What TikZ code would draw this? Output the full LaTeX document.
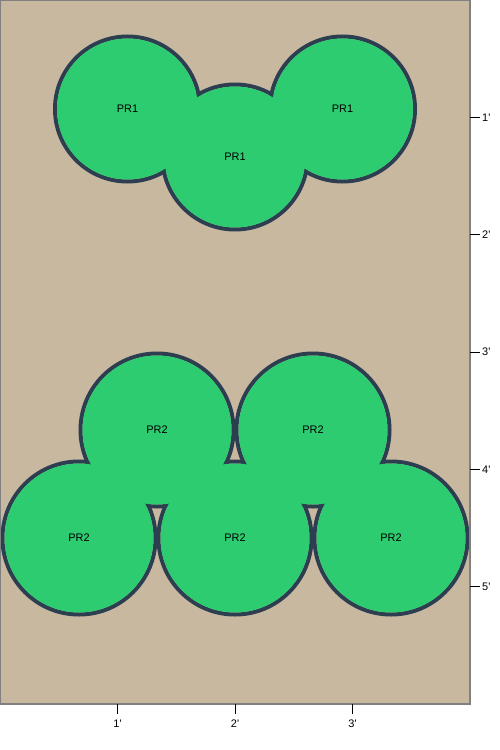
\documentclass[tikz,border=0pt]{standalone}
\usepackage{fontspec}
\newfontfamily\plotfont{Liberation Sans}
\definecolor{ground}{HTML}{C9B8A0}
\definecolor{plant}{HTML}{2ECC71}
\definecolor{rim}{HTML}{2C3E50}
\definecolor{frame}{HTML}{808080}
\begin{document}
\begin{tikzpicture}[x=1bp,y=-1bp,
  outline/.style={draw=rim,line width=4bp},
  pra/.style={circle,fill=plant,inner sep=0pt,minimum size=141bp,font=\plotfont\fontsize{11}{13}\selectfont},
  prb/.style={circle,fill=plant,inner sep=0pt,minimum size=149bp,font=\plotfont\fontsize{11}{13}\selectfont},
  tick/.style={draw=black,line width=1bp},
  ticklab/.style={font=\plotfont\fontsize{11}{13}\selectfont,inner sep=0pt}]
\useasboundingbox (0,0) rectangle (500,750);
\fill[white] (0,0) rectangle (500,750);
\fill[ground] (0,0) rectangle (470,704);
% circle centres
\coordinate (c1) at (127.5,109);
\coordinate (c2) at (235,157);
\coordinate (c3) at (342.5,109);
\coordinate (d1) at (157,430);
\coordinate (d2) at (313,430);
\coordinate (d3) at (79,538);
\coordinate (d4) at (235,538);
\coordinate (d5) at (391,538);
% outlines first
\foreach \c in {c1,c2,c3} \draw[outline] (\c) circle[radius=72.5bp];
\foreach \c in {d1,d2,d3,d4,d5} \draw[outline] (\c) circle[radius=76.5bp];
% fills with labels
\node[pra] (p1a) at (c1) {PR1};
\node[pra] (p1b) at (c2) {PR1};
\node[pra] (p1c) at (c3) {PR1};
\node[prb] (p2a) at (d1) {PR2};
\node[prb] (p2b) at (d2) {PR2};
\node[prb] (p2c) at (d3) {PR2};
\node[prb] (p2d) at (d4) {PR2};
\node[prb] (p2e) at (d5) {PR2};
% frame
\draw[frame,line width=2bp] (0,0) rectangle (470,704);
% right ticks
\foreach \i/\y in {1/117.3,2/234.7,3/352,4/469.3,5/586.7}{
  \coordinate (ry\i) at (470,\y);
  \coordinate (re\i) at (480,\y);
  \draw[tick] (ry\i) -- (re\i);
  \node[ticklab,anchor=west] (rl\i) at (482,\y) {\i'};
}
% bottom ticks
\foreach \i/\x in {1/117.5,2/235,3/352.5}{
  \coordinate (bx\i) at (\x,704);
  \coordinate (be\i) at (\x,714);
  \draw[tick] (bx\i) -- (be\i);
  \node[ticklab] (bl\i) at (\x,724) {\i'};
}
\end{tikzpicture}
\end{document}
